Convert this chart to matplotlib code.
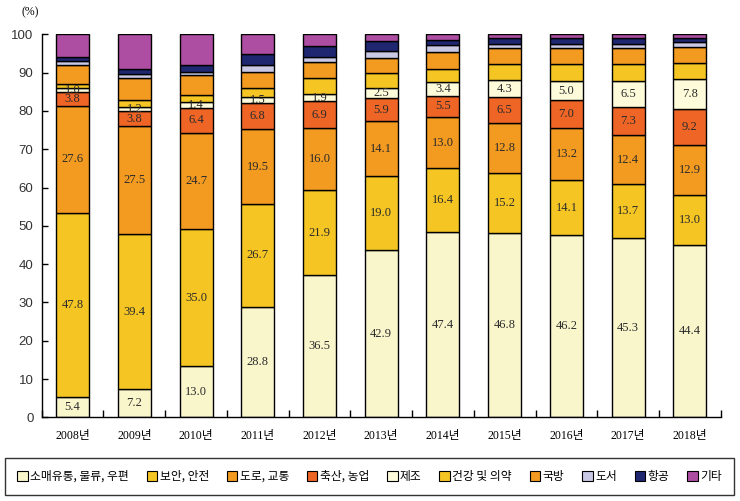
import numpy as np
import matplotlib
matplotlib.use('Agg')
from matplotlib import pyplot as plt
from matplotlib.patches import Patch

years = ['2008년', '2009년', '2010년', '2011년', '2012년', '2013년',
         '2014년', '2015년', '2016년', '2017년', '2018년']
names = ['소매유통, 물류, 우편', '보안, 안전', '도로, 교통', '축산, 농업', '제조',
         '건강 및 의약', '국방', '도서', '항공', '기타']

retail = [5.4, 7.2, 13.0, 28.8, 36.5, 42.9, 47.4, 46.8, 46.2, 45.3, 44.4]
security = [47.8, 39.4, 35.0, 26.7, 21.9, 19.0, 16.4, 15.2, 14.1, 13.7, 13.0]
traffic = [27.6, 27.5, 24.7, 19.5, 16.0, 14.1, 13.0, 12.8, 13.2, 12.4, 12.9]
farming = [3.8, 3.8, 6.4, 6.8, 6.9, 5.9, 5.5, 6.5, 7.0, 7.3, 9.2]
manufact = [1.0, 1.2, 1.4, 1.5, 1.9, 2.5, 3.4, 4.3, 5.0, 6.5, 7.8]
health = [0.9, 1.6, 1.9, 2.3, 4.1, 4.1, 3.5, 4.2, 4.3, 4.3, 4.1]
defense = [4.9, 5.8, 4.9, 4.2, 4.0, 3.8, 4.4, 4.1, 4.1, 4.1, 4.0]
islands = [1.2, 0.8, 1.0, 1.8, 1.3, 1.8, 1.6, 1.0, 1.0, 1.0, 1.5]
aviation = [0.9, 1.3, 1.7, 3.0, 3.0, 2.4, 1.4, 1.4, 1.4, 1.4, 0.9]
other = [6.0, 8.9, 7.8, 5.1, 2.9, 1.8, 1.4, 1.0, 1.0, 1.0, 1.0]

series = [retail, security, traffic, farming, manufact,
          health, defense, islands, aviation, other]
colors = ['#FAF6CC', '#F5C623', '#F39A20', '#EE6526', '#FDFBDA',
          '#F5C623', '#F39A20', '#C9C9E6', '#1F2770', '#AE4EA2']
labelled = 5  # first five series carry value labels

plt.rcParams['font.family'] = ['Liberation Serif', 'Noto Sans CJK KR']

data = np.array(series, dtype=float)
pct = data / data.sum(axis=0) * 100  # 100% stacked

fig = plt.figure(figsize=(7.4, 5.01), dpi=100)
ax = fig.add_axes([0.0564, 0.167, 0.9176, 0.7645])
x = np.arange(len(years))
bottom = np.zeros(len(years))
for i, (vals, raw) in enumerate(zip(pct, data)):
    ax.bar(x, vals, 0.535, bottom=bottom, color=colors[i],
           edgecolor='black', linewidth=1.0)
    if i < labelled:
        for xi, b, v, r in zip(x, bottom, vals, raw):
            ax.text(xi, b + v / 2, '%.1f' % r, ha='center', va='center',
                    fontsize=9, color='#2b2b2b')
    bottom += vals

ax.set_xlim(-0.5, len(years) - 0.5)
ax.set_ylim(0, 100)
ax.set_yticks(range(0, 101, 10))
ax.set_xticks(x)
ax.set_xticklabels(years)
ax.set_xticks(np.arange(-0.5, len(years)), minor=True)
ax.tick_params(axis='x', which='major', length=0, pad=9, labelsize=8.5)
ax.tick_params(axis='x', which='minor', direction='in', length=5, width=1)
ax.tick_params(axis='y', direction='in', length=4, width=1, pad=6,
               labelsize=9.5)
for lab in ax.get_yticklabels():
    lab.set_family('Liberation Sans')
    lab.set_color('#333333')
for s in ['top', 'right']:
    ax.spines[s].set_visible(False)
for s in ['left', 'bottom']:
    ax.spines[s].set_linewidth(1.0)

fig.text(0.041, 0.975, '(%)', ha='center', va='center', fontsize=8.5)

handles = [Patch(facecolor=c, edgecolor='black', linewidth=0.8) for c in colors]
leg = fig.legend(handles, names, loc='center', ncol=10,
                 bbox_to_anchor=(0.4993, 0.049), frameon=True,
                 fancybox=False, handlelength=0.9,
                 handleheight=0.9, handletextpad=0.2, columnspacing=1.5,
                 borderpad=1.0, borderaxespad=0,
                 prop={'family': ['Noto Sans CJK KR'], 'size': 8.5})
leg.get_frame().set_edgecolor('black')
leg.get_frame().set_linewidth(1.0)

plt.savefig('out.png', dpi=100)
